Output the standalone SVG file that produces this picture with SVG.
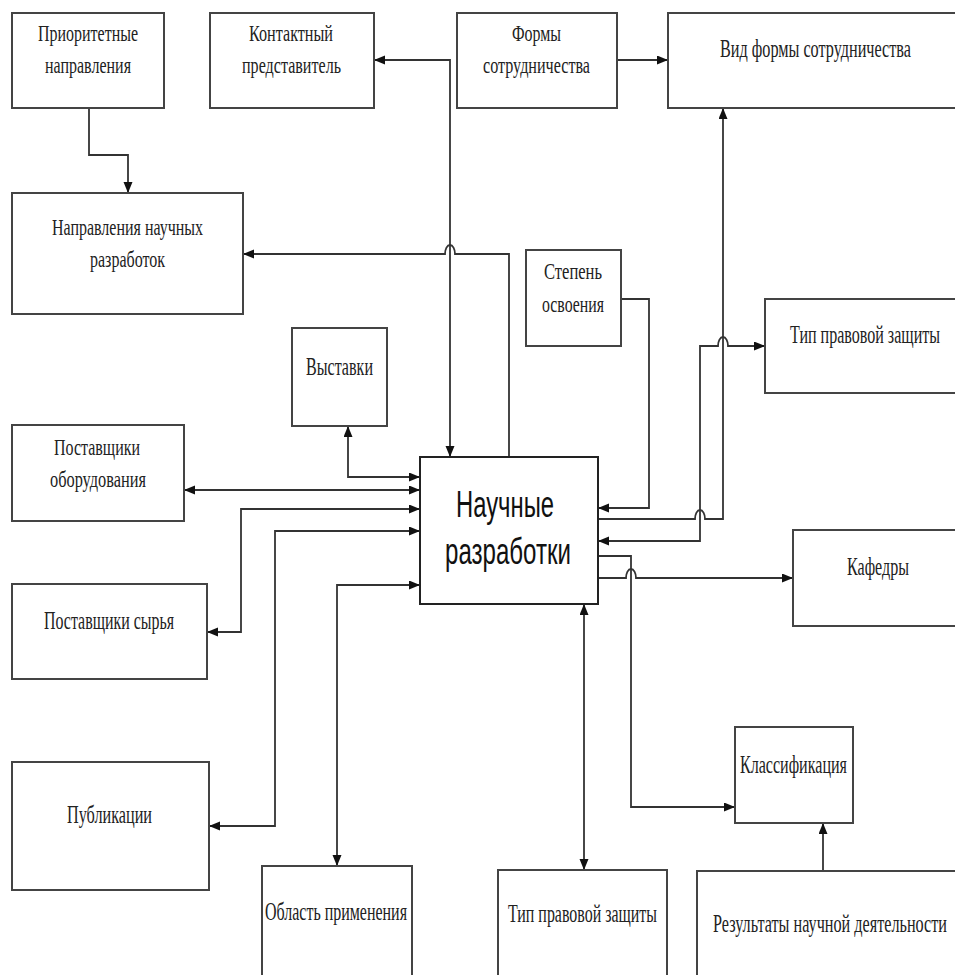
<svg xmlns="http://www.w3.org/2000/svg" width="955" height="975" viewBox="0 0 955 975">
<defs>
<marker id="ah" markerUnits="userSpaceOnUse" markerWidth="12" markerHeight="10" refX="11" refY="4.5" orient="auto-start-reverse">
<path d="M0,0 L11,4.5 L0,9 z" fill="#111"/>
</marker>
<style>
.box{fill:#fff;stroke:#444;stroke-width:2}
.main{fill:#fff;stroke:#222;stroke-width:2}
.t{font-family:"Liberation Serif","Times New Roman",serif;font-size:24px;fill:#222}
.t1{font-size:25px}
.big{font-family:"Liberation Sans",Arial,sans-serif;font-size:36px;fill:#111}
.c{fill:none;stroke:#333;stroke-width:1.8}
.a{marker-end:url(#ah)}
.b{marker-start:url(#ah);marker-end:url(#ah)}
</style>
</defs>
<rect width="955" height="975" fill="#fff"/>

<g id="connectors">
<path class="c a" d="M89,108 V155 H128 V193"/>
<path class="c b" d="M450,457 V60 H374"/>
<path class="c a" d="M509,457 V254 H455 A5,9 0 0 0 445,254 H243"/>
<path class="c a" d="M617,60 H668"/>
<path class="c a" d="M621,299 H649 V508 H598"/>
<path class="c a" d="M598,519 H695 A5,9 0 0 1 705,519 H723 V108"/>
<path class="c b" d="M598,541 H700 V346 H718 A5,9 0 0 1 728,346 H765"/>
<path class="c a" d="M598,556 H631 V807 H735"/>
<path class="c a" d="M598,578 H626 A5,9 0 0 1 636,578 H793"/>
<path class="c b" d="M348,426 V477 H420"/>
<path class="c b" d="M184,490 H420"/>
<path class="c b" d="M207,632 H241 V509 H420"/>
<path class="c b" d="M209,826 H275 V531 H420"/>
<path class="c b" d="M337,866 V585 H420"/>
<path class="c b" d="M584,604 V870"/>
<path class="c a" d="M823,871 V823"/>
</g>

<g id="prioritetnye">
<rect class="box" x="12" y="13" width="152" height="95"/>
<text class="t" x="38" y="41" textLength="100" lengthAdjust="spacingAndGlyphs">Приоритетные</text>
<text class="t" x="45" y="73" textLength="86" lengthAdjust="spacingAndGlyphs">направления</text>
</g>
<g id="kontaktny">
<rect class="box" x="210" y="13" width="164" height="95"/>
<text class="t" x="249" y="41" textLength="84" lengthAdjust="spacingAndGlyphs">Контактный</text>
<text class="t" x="242" y="73" textLength="99" lengthAdjust="spacingAndGlyphs">представитель</text>
</g>
<g id="formy">
<rect class="box" x="457" y="13" width="160" height="95"/>
<text class="t" x="512" y="41" textLength="49" lengthAdjust="spacingAndGlyphs">Формы</text>
<text class="t" x="483" y="73" textLength="107" lengthAdjust="spacingAndGlyphs">сотрудничества</text>
</g>
<g id="vid-formy">
<path class="box" d="M955,13 H668 V108 H955"/>
<text class="t t1" x="720" y="57" textLength="191" lengthAdjust="spacingAndGlyphs">Вид формы сотрудничества</text>
</g>
<g id="napravleniya">
<rect class="box" x="12" y="193" width="231" height="121"/>
<text class="t" x="52" y="235" textLength="151" lengthAdjust="spacingAndGlyphs">Направления научных</text>
<text class="t" x="90" y="267" textLength="75" lengthAdjust="spacingAndGlyphs">разработок</text>
</g>
<g id="stepen">
<rect class="box" x="526" y="250" width="95" height="96"/>
<text class="t" x="544" y="279" textLength="58" lengthAdjust="spacingAndGlyphs">Степень</text>
<text class="t" x="542" y="312" textLength="62" lengthAdjust="spacingAndGlyphs">освоения</text>
</g>
<g id="tip-zashity-right">
<path class="box" d="M955,299 H765 V393 H955"/>
<text class="t t1" x="790" y="343" textLength="150" lengthAdjust="spacingAndGlyphs">Тип правовой защиты</text>
</g>
<g id="vystavki">
<rect class="box" x="292" y="328" width="95" height="98"/>
<text class="t t1" x="306" y="375" textLength="67" lengthAdjust="spacingAndGlyphs">Выставки</text>
</g>
<g id="postavshiki-oborudovaniya">
<rect class="box" x="12" y="425" width="172" height="96"/>
<text class="t" x="54" y="455" textLength="86" lengthAdjust="spacingAndGlyphs">Поставщики</text>
<text class="t" x="50" y="487" textLength="96" lengthAdjust="spacingAndGlyphs">оборудования</text>
</g>
<g id="nauchnye-razrabotki">
<rect class="main" x="420" y="457" width="178" height="147"/>
<text class="big" x="456" y="517" textLength="98" lengthAdjust="spacingAndGlyphs">Научные</text>
<text class="big" x="445" y="564" textLength="126" lengthAdjust="spacingAndGlyphs">разработки</text>
</g>
<g id="kafedry">
<path class="box" d="M955,530 H793 V626 H955"/>
<text class="t t1" x="847" y="575" textLength="62" lengthAdjust="spacingAndGlyphs">Кафедры</text>
</g>
<g id="postavshiki-syrya">
<rect class="box" x="12" y="584" width="195" height="95"/>
<text class="t t1" x="44" y="629" textLength="130" lengthAdjust="spacingAndGlyphs">Поставщики сырья</text>
</g>
<g id="klassifikaciya">
<rect class="box" x="735" y="727" width="118" height="96"/>
<text class="t t1" x="740" y="773" textLength="107" lengthAdjust="spacingAndGlyphs">Классификация</text>
</g>
<g id="publikacii">
<rect class="box" x="12" y="762" width="197" height="128"/>
<text class="t t1" x="67" y="823" textLength="85" lengthAdjust="spacingAndGlyphs">Публикации</text>
</g>
<g id="oblast-primeneniya">
<path class="box" d="M262,975 V866 H412 V975"/>
<text class="t t1" x="265" y="920" textLength="142" lengthAdjust="spacingAndGlyphs">Область применения</text>
</g>
<g id="tip-zashity-bottom">
<path class="box" d="M498,975 V870 H667 V975"/>
<text class="t t1" x="508" y="922" textLength="149" lengthAdjust="spacingAndGlyphs">Тип правовой защиты</text>
</g>
<g id="rezultaty">
<path class="box" d="M697,975 V871 H955"/>
<text class="t t1" x="713" y="932" textLength="234" lengthAdjust="spacingAndGlyphs">Результаты научной деятельности</text>
</g>
</svg>
